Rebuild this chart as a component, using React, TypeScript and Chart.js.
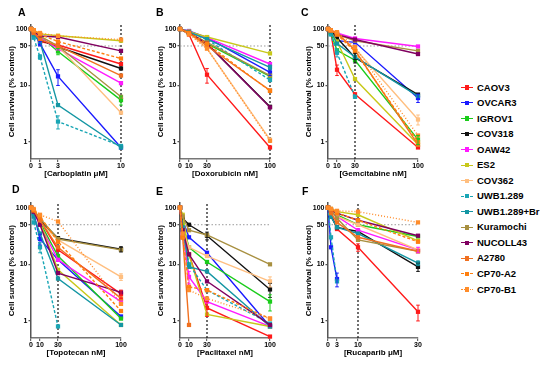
import React, { useEffect, useRef } from 'react';
import { Chart, registerables } from 'chart.js';

Chart.register(...registerables);

const FONT = "'Liberation Sans', Arial, Helvetica, sans-serif";

const SERIES = ['CAOV3', 'OVCAR3', 'IGROV1', 'COV318', 'OAW42', 'ES2', 'COV362', 'UWB1.289', 'UWB1.289+Br', 'Kuramochi', 'NUCOLL43', 'A2780', 'CP70-A2', 'CP70-B1'];
const COLORS = ['#FF1A1A', '#1A1AFF', '#1ACC1A', '#111111', '#FF1AFF', '#C8C81A', '#FFBF80', '#1AA6B5', '#1496A3', '#A89040', '#800060', '#F07020', '#FF7F0E', '#FF8C2A'];
const DASHES: number[][] = [[], [], [], [], [], [], [], [3, 2], [], [], [], [], [3, 2], [1, 2]];
const LEGEND_STYLES = ['solid', 'solid', 'solid', 'solid', 'solid', 'solid', 'solid', 'dashed', 'solid', 'solid', 'solid', 'solid', 'dashed', 'dotted'];

const Y_TICKS = [1, 10, 50, 100];

// Carboplatin (µM)
const CARBO_X = [0, 0.3, 1, 3, 10];
const CARBO_TICKS = [0, 1, 3, 10];
const CARBOPLATIN: (number | null)[][] = [
  [100, 90, 60, 52, 24],
  [100, 85, 55, 14.5, 0.8],
  [100, 90, 75, 40, 5.5],
  [100, 88, 65, 48, 20],
  [100, 85, 70, 45, 11],
  [100, 95, 82, 76, 62],
  [100, 90, 75, 50, 3.3],
  [100, 70, 32, 2.3, 0.85],
  [100, 80, 60, 4.5, 0.8],
  [100, 90, 75, 50, 6.3],
  [100, 90, 75, 72, 41],
  [100, 85, 65, 50, 15],
  [100, 95, 80, 60, 30],
  [100, 95, 85, 75, 65],
];
// error bars: [series, point, half-width]
const CARBO_ERR: number[][] = [[1, 3, 4.5], [7, 3, 0.6], [7, 2, 3], [2, 3, 5], [1, 2, 5], [2, 4, 1]];

// Doxorubicin (nM)
const DOXO_X = [0, 10, 30, 100];
const DOXO_TICKS = [0, 10, 30, 100];
const DOXORUBICIN: (number | null)[][] = [
  [100, 80, 15.5, 0.8],
  [100, 92, 70, 17],
  [100, 82, 55, 14.5],
  [100, 85, 55, 4.2],
  [100, 90, 70, 24],
  [100, 90, 72, 37],
  [100, 85, 45, 1.1],
  [100, 88, 65, 12.5],
  [100, 88, 66, 21],
  [100, 85, 58, 15],
  [100, 85, 55, 4.1],
  [100, 85, 50, 8.2],
  [100, 85, 55, 8],
  [100, 80, 45, 1.05],
];
const DOXO_ERR: number[][] = [[0, 2, 4.5], [1, 3, 2], [8, 3, 2]];

// Gemcitabine (nM)
const GEM_X = [0, 3, 10, 30, 100];
const GEM_TICKS = [0, 10, 30, 100];
const GEMCITABINE: (number | null)[][] = [
  [100, 90, 19, 7, 0.8],
  [100, 95, 62, 58, 6],
  [100, 85, 42, 28, 1.1],
  [100, 95, 70, 31, 6.9],
  [100, 95, 85, 68, 49],
  [100, 90, 60, 13, 0.9],
  [100, 95, 80, 45, 2.5],
  [100, 80, 38, 6.3, null],
  [100, 90, 55, 32, 6.5],
  [100, 95, 80, 62, 41],
  [100, 95, 80, 65, 36],
  [100, 95, 85, 42, 0.9],
  [100, 95, 80, 40, 1.0],
  [100, 95, 88, 48, 1.3],
];
const GEM_ERR: number[][] = [[0, 2, 4], [7, 2, 6], [3, 3, 6], [1, 4, 1], [6, 4, 0.5], [2, 4, 0.2]];

// Topotecan (nM)
const TOPO_X = [0, 3, 10, 30, 100];
const TOPO_TICKS = [0, 10, 30, 100];
const TOPOTECAN: (number | null)[][] = [
  [100, 90, 60, 18, 3],
  [100, 80, 28, 12, 1.2],
  [100, 85, 55, 14, 1.1],
  [100, 90, 60, 29, 18.5],
  [100, 85, 50, 12, 2.2],
  [100, 85, 55, 8, 0.85],
  [100, 85, 55, 27, 6],
  [100, 55, 20, 0.8, null],
  [100, 70, 35, 5.6, 0.85],
  [100, 90, 65, 28, 18],
  [100, 85, 50, 7, 3.2],
  [100, 90, 60, 20, 2.5],
  [100, 90, 70, 25, 1.5],
  [100, 95, 75, 57, 2],
];
const TOPO_ERR: number[][] = [[1, 2, 6], [7, 2, 4], [3, 4, 2], [6, 4, 0.8], [0, 4, 0.5]];

// Paclitaxel (nM)
const PACLI_X = [0, 3, 10, 30, 100];
const PACLI_TICKS = [0, 10, 30, 100];
const PACLITAXEL: (number | null)[][] = [
  [100, 30, 15, 1.7, 0.53],
  [100, 60, 30, 16, 0.8],
  [100, 50, 20, 11, 2.2],
  [100, 65, 50, 32, 3.6],
  [100, 35, 6, 2.2, 0.8],
  [100, 75, 15, 1.3, 0.8],
  [100, 40, 20, 14, 5],
  [100, 40, 10, 3.5, 0.9],
  [100, 45, 9, 7.5, 0.8],
  [100, 70, 40, 33, 10],
  [100, 40, 15, 5, 0.85],
  [100, 30, 0.85, null, null],
  [100, 30, 4, 3.5, 1.1],
  [100, 35, 3.5, 2.5, 1.1],
];
const PACLI_ERR: number[][] = [[3, 3, 5], [3, 4, 1], [2, 4, 0.7], [0, 3, 0.5], [4, 2, 1.5], [6, 4, 1]];

// Rucaparib (µM)
const RUCA_X = [0, 1, 3, 10, 30];
const RUCA_TICKS = [0, 3, 10, 30];
const RUCAPARIB: (number | null)[][] = [
  [100, 80, 42, 20, 1.45],
  [100, 20, 5.5, null, null],
  [100, 90, 75, 50, 31],
  [100, 70, 45, 38, 9],
  [100, 90, 70, 40, 18],
  [100, 95, 85, 75, 26],
  [100, 90, 70, 50, 18],
  [100, 30, 5, null, null],
  [100, 70, 45, 35, 10.5],
  [100, 90, 65, 27, 17],
  [100, 90, 80, 60, 32],
  [100, 80, 55, 30, 17],
  [100, 95, 80, 60, 25],
  [100, 95, 88, 85, 55],
];
const RUCA_ERR: number[][] = [[0, 4, 0.45], [1, 2, 1.5], [3, 4, 1.5], [8, 4, 1], [4, 4, 2], [0, 3, 3]];

type PanelDef = {
  letter: string; xTitle: string; xs: number[]; ticks: number[]; values: (number | null)[][]; errors: number[][];
  xMax: number; vline: number; left: number; top: number; padTop: number; height: number;
  lx: number; ly: number;
};

const PANELS: PanelDef[] = [
  { letter: 'A', xTitle: '[Carboplatin \u03BCM]', xs: CARBO_X, ticks: CARBO_TICKS, values: CARBOPLATIN, errors: CARBO_ERR, xMax: 10, vline: 10, left: 0, top: 0, padTop: 24.5, height: 184, lx: 18, ly: 6 },
  { letter: 'B', xTitle: '[Doxorubicin nM]', xs: DOXO_X, ticks: DOXO_TICKS, values: DOXORUBICIN, errors: DOXO_ERR, xMax: 100, vline: 100, left: 149, top: 0, padTop: 24.5, height: 184, lx: 156, ly: 6 },
  { letter: 'C', xTitle: '[Gemcitabine nM]', xs: GEM_X, ticks: GEM_TICKS, values: GEMCITABINE, errors: GEM_ERR, xMax: 100, vline: 30, left: 297, top: 0, padTop: 24.5, height: 184, lx: 301, ly: 6 },
  { letter: 'D', xTitle: '[Topotecan nM]', xs: TOPO_X, ticks: TOPO_TICKS, values: TOPOTECAN, errors: TOPO_ERR, xMax: 100, vline: 30, left: 0, top: 180, padTop: 23.2, height: 183, lx: 12, ly: 183 },
  { letter: 'E', xTitle: '[Paclitaxel nM]', xs: PACLI_X, ticks: PACLI_TICKS, values: PACLITAXEL, errors: PACLI_ERR, xMax: 100, vline: 30, left: 149, top: 180, padTop: 23.2, height: 183, lx: 156, ly: 185 },
  { letter: 'F', xTitle: '[Rucaparib \u03BCM]', xs: RUCA_X, ticks: RUCA_TICKS, values: RUCAPARIB, errors: RUCA_ERR, xMax: 30, vline: 10, left: 297, top: 180, padTop: 23.2, height: 183, lx: 302, ly: 185 },
];

const CANVAS_W = 130;
const Y_MIN = 0.5;
const Y_MAX = 120;

function errorBarPlugin(p: PanelDef): any {
  return {
    id: 'errbars' + p.letter,
    afterDatasetsDraw(chart: any) {
      const ctx = chart.ctx;
      const ys = chart.scales.y;
      ctx.save();
      for (const [s, j, e] of p.errors) {
        const v = p.values[s][j];
        if (v == null) continue;
        const pt = chart.getDatasetMeta(s).data[j];
        if (!pt) continue;
        const x = pt.x;
        const yTop = ys.getPixelForValue(v + e);
        const yBot = ys.getPixelForValue(Math.max(v - e, 0.05));
        ctx.strokeStyle = COLORS[s];
        ctx.lineWidth = 1;
        ctx.setLineDash([]);
        ctx.beginPath();
        ctx.moveTo(x, yTop); ctx.lineTo(x, yBot);
        ctx.moveTo(x - 1.8, yTop); ctx.lineTo(x + 1.8, yTop);
        ctx.moveTo(x - 1.8, yBot); ctx.lineTo(x + 1.8, yBot);
        ctx.stroke();
      }
      ctx.restore();
    },
  };
}

function buildConfig(p: PanelDef): any {
  const datasets: any[] = SERIES.map((name, i) => ({
    label: name,
    data: p.xs.map((x, j) => ({ x, y: p.values[i][j] })),
    borderColor: COLORS[i],
    backgroundColor: COLORS[i],
    borderWidth: 1.4,
    borderDash: DASHES[i],
    pointStyle: 'rect',
    pointRadius: 3,
    pointHoverRadius: 3,
    pointBorderWidth: 0,
    tension: 0,
    clip: false,
    spanGaps: false,
    order: SERIES.length - i,
  }));
  datasets.push({
    label: 'ref50',
    data: [{ x: 0, y: 50 }, { x: p.xMax, y: 50 }],
    borderColor: '#9a9a9a', borderDash: [1.5, 2], borderWidth: 1, pointRadius: 0, order: 100, clip: false,
  });
  datasets.push({
    label: 'vline',
    data: [{ x: p.vline, y: Y_MIN }, { x: p.vline, y: Y_MAX }],
    borderColor: '#222', borderDash: [2, 2], borderWidth: 1.3, pointRadius: 0, order: 101, clip: false,
  });
  return {
    type: 'line',
    data: { datasets },
    plugins: [errorBarPlugin(p)],
    options: {
      animation: false,
      responsive: false,
      devicePixelRatio: 1,
      events: [],
      layout: { padding: { top: p.padTop, right: CANVAS_W - 31 - 90, left: 0, bottom: 0 } },
      plugins: { legend: { display: false }, tooltip: { enabled: false }, title: { display: false } },
      scales: {
        x: {
          type: 'linear', min: 0, max: p.xMax,
          afterBuildTicks: (s: any) => { s.ticks = p.ticks.map((v) => ({ value: v })); },
          afterFit: (s: any) => { s.height = 25; s.paddingLeft = 0; s.paddingRight = 0; },
          ticks: { autoSkip: false, maxRotation: 0, padding: 0, color: '#000', font: { family: FONT, size: 7, weight: 'bold' }, callback: (v: any) => String(v) },
          grid: { drawOnChartArea: false, drawTicks: true, tickLength: 3, color: '#666', lineWidth: 1.2 },
          border: { display: true, color: '#777', width: 1.5 },
          title: { display: true, text: p.xTitle, color: '#000', font: { family: FONT, size: 8, weight: 'bold' }, padding: { top: 0, bottom: 5.3 } },
        },
        y: {
          type: 'logarithmic', min: Y_MIN, max: Y_MAX,
          afterBuildTicks: (s: any) => { s.ticks = Y_TICKS.map((v) => ({ value: v })); },
          afterFit: (s: any) => { s.width = 31; s.paddingTop = 0; s.paddingBottom = 0; },
          ticks: { autoSkip: false, padding: 1, color: '#000', font: { family: FONT, size: 7, weight: 'bold' }, callback: (v: any) => String(v) },
          grid: { drawOnChartArea: false, drawTicks: true, tickLength: 2.5, color: '#555', lineWidth: 1.2 },
          border: { display: true, color: '#555', width: 1.5 },
          title: { display: true, text: 'Cell survival (% control)', color: '#000', font: { family: FONT, size: 8, weight: 'bold' }, padding: { top: 7, bottom: 0 } },
        },
      },
    },
  };
}

function PanelChart({ p }: { p: PanelDef }) {
  const ref = useRef<HTMLCanvasElement>(null);
  useEffect(() => {
    const chart = new Chart(ref.current as HTMLCanvasElement, buildConfig(p));
    return () => chart.destroy();
  }, [p]);
  return (
    <canvas
      ref={ref}
      width={CANVAS_W}
      height={p.height}
      style={{ position: 'absolute', left: p.left, top: p.top, width: CANVAS_W, height: p.height }}
    />
  );
}

function Legend() {
  return (
    <>
      {SERIES.map((name, i) => {
        const cy = 87.5 + i * 15.54;
        return (
          <React.Fragment key={name}>
            <div style={{ position: 'absolute', left: 461, top: cy - 0.7, width: 12, height: 0, borderTop: `1.4px ${LEGEND_STYLES[i]} ${COLORS[i]}` }} />
            <div style={{ position: 'absolute', left: 464.8, top: cy - 2.2, width: 4.4, height: 4.4, background: COLORS[i] }} />
            <div style={{ position: 'absolute', left: 477, top: cy - 6, height: 12, lineHeight: '12px', fontFamily: FONT, fontWeight: 'bold', fontSize: 9.5, color: '#000', whiteSpace: 'nowrap' }}>{name}</div>
          </React.Fragment>
        );
      })}
    </>
  );
}

export default function App() {
  return (
    <div style={{ position: 'absolute', left: 0, top: 0, width: 550, height: 365, background: '#fff', overflow: 'hidden' }}>
      {PANELS.map((p) => (
        <PanelChart key={p.letter} p={p} />
      ))}
      {PANELS.map((p) => (
        <div key={'l' + p.letter} style={{ position: 'absolute', left: p.lx, top: p.ly, fontFamily: FONT, fontWeight: 'bold', fontSize: 10.5, lineHeight: '12px', color: '#000' }}>{p.letter}</div>
      ))}
      <Legend />
    </div>
  );
}
